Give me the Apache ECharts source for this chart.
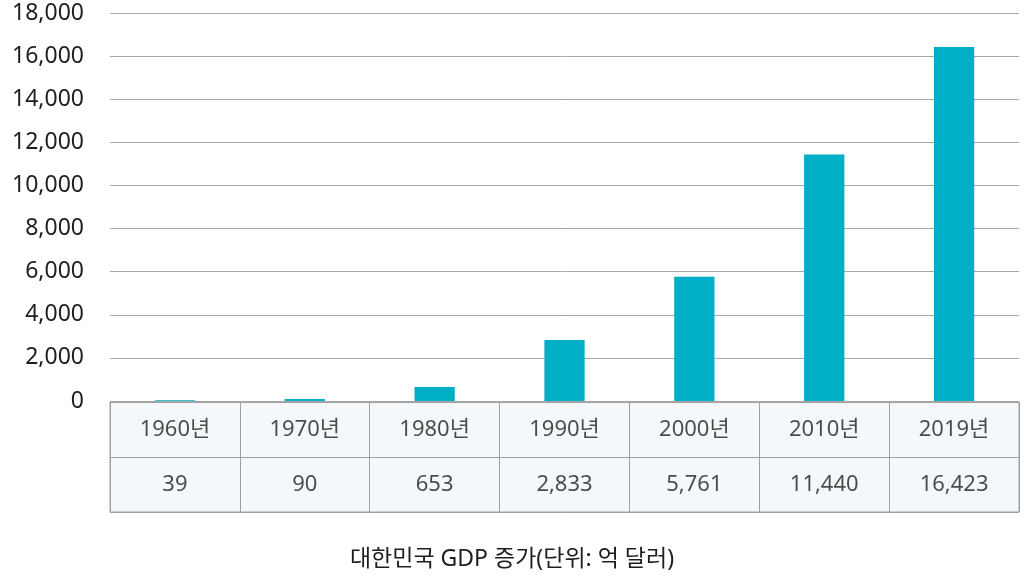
<!DOCTYPE html>
<html>
<head>
<meta charset="utf-8">
<script src="https://cdn.jsdelivr.net/npm/echarts@6/dist/echarts.min.js"></script>
<style>html,body{margin:0;padding:0;background:#fff}#c{width:1024px;height:581px}</style>
</head>
<body>
<div id="c"></div>
<script>
const categories = ['1960년','1970년','1980년','1990년','2000년','2010년','2019년'];
const gdpValues = [39, 90, 653, 2833, 5761, 11440, 16423];
const valueLabels = ['39','90','653','2,833','5,761','11,440','16,423'];
const yTicks = {min: 0, max: 18000, interval: 2000};
const title = '대한민국 GDP 증가(단위: 억 달러)';

const FONT = '"Noto Sans", "Noto Sans CJK KR", sans-serif';
const chart = echarts.init(document.getElementById('c'));
chart.setOption({
  animation: false,
  title: {
    text: title, left: 'center', top: 543,
    textStyle: {fontFamily: FONT, fontSize: 23, fontWeight: 'normal', color: '#1e1e1e'}
  },
  grid: [
    {left: 110, right: 5, top: 13, bottom: 180},
    {left: 110, right: 5, top: 402, bottom: 69, show: true, backgroundColor: '#f5f8fa', borderColor: '#a0a0a0', borderWidth: 1}
  ],
  xAxis: [
    {type: 'category', gridIndex: 0, data: categories, axisLine: {show: false}, axisTick: {show: false}, axisLabel: {show: false}},
    {type: 'category', gridIndex: 1, data: categories, axisLine: {show: false}, axisTick: {show: false}, axisLabel: {show: false},
     splitLine: {show: true, lineStyle: {color: '#a0a0a0', width: 1}}}
  ],
  yAxis: [
    {type: 'value', gridIndex: 0, min: yTicks.min, max: yTicks.max, interval: yTicks.interval,
     axisLine: {show: false}, axisTick: {show: false},
     axisLabel: {margin: 26, fontFamily: FONT, fontSize: 23, color: '#1e1e1e',
       formatter: v => v.toLocaleString('en-US')},
     splitLine: {lineStyle: {color: '#a8a8a8', width: 1}}},
    {type: 'value', gridIndex: 1, min: 0, max: 2, interval: 1,
     axisLine: {show: false}, axisTick: {show: false}, axisLabel: {show: false},
     splitLine: {show: true, lineStyle: {color: '#a0a0a0', width: 1}}}
  ],
  series: [
    {type: 'bar', xAxisIndex: 0, yAxisIndex: 0, data: gdpValues, barWidth: '31%',
     itemStyle: {color: '#00aec6'}},
    {type: 'scatter', xAxisIndex: 1, yAxisIndex: 1, symbolSize: 0, silent: true,
     data: categories.map((c, i) => [i, 1.5, c]),
     label: {show: true, position: 'inside', formatter: p => p.data[2], fontFamily: FONT, fontSize: 22, color: '#1e1e1e'}},
    {type: 'scatter', xAxisIndex: 1, yAxisIndex: 1, symbolSize: 0, silent: true,
     data: valueLabels.map((v, i) => [i, 0.5, v]),
     label: {show: true, position: 'inside', formatter: p => p.data[2], fontFamily: FONT, fontSize: 22, color: '#1e1e1e'}}
  ]
});
</script>
</body>
</html>
